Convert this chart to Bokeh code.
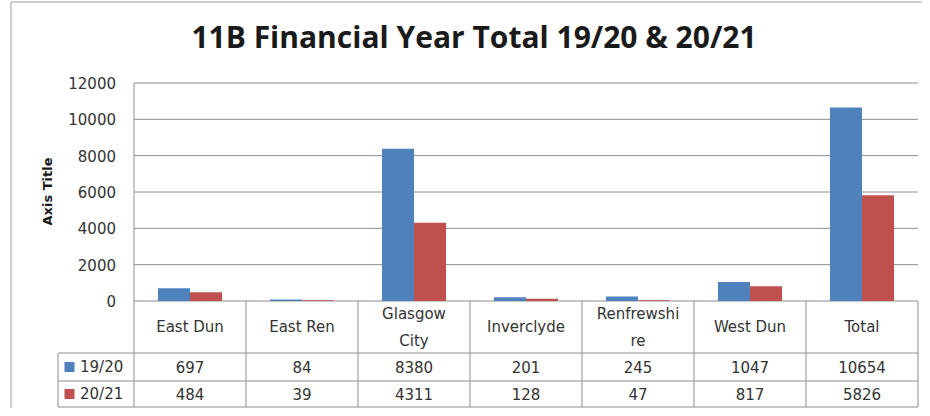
import math
from bokeh.plotting import figure
from bokeh.models import Range1d, ColumnDataSource
from bokeh.transform import dodge
from bokeh.core.properties import value
from bokeh.embed import file_html
from bokeh.resources import INLINE

# ---- data ----
categories = ["East Dun", "East Ren", "Glasgow City", "Inverclyde", "Renfrewshire", "West Dun", "Total"]
category_labels = ["East Dun", "East Ren", "Glasgow\nCity", "Inverclyde", "Renfrewshi\nre", "West Dun", "Total"]
series_names = ["19/20", "20/21"]
values_1920 = [697, 84, 8380, 201, 245, 1047, 10654]
values_2021 = [484, 39, 4311, 128, 47, 817, 5826]
y_ticks = [0, 2000, 4000, 6000, 8000, 10000, 12000]
title_text = "11B Financial Year Total 19/20 & 20/21"
axis_title = "Axis Title"

# ---- style / layout (pixels) ----
BLUE = "#4F81BD"
RED = "#C0504D"
LINE = "#8E8E8E"
BORDER = "#A0A0A0"
TXT = "#333333"
FONT = "DejaVu Sans"
FS = "15px"

W, H = 922, 408
CAT_W = 112.0            # px per category
X0 = 133.5               # px of the value axis
Y0 = 300.5               # px of value 0
Y_TOP = 82.5             # px of value 12000
YMAX = 12000
k = (Y0 - Y_TOP) / YMAX  # px per value unit

n = len(categories)
x_idx = [i + 0.5 for i in range(n)]

p = figure(width=W, height=H, output_backend="svg", toolbar_location=None,
           x_axis_location=None, y_axis_location=None,
           x_range=Range1d(-X0 / CAT_W, (W - X0) / CAT_W),
           y_range=Range1d(-(H - Y0) / k, YMAX + Y_TOP / k),
           min_border=0, min_border_left=0, min_border_right=0, min_border_top=0, min_border_bottom=0)
p.extra_x_ranges = {"sx": Range1d(0, W)}
p.extra_y_ranges = {"sy": Range1d(H, 0)}
p.grid.visible = False
p.outline_line_color = None
p.background_fill_color = "white"
p.border_fill_color = "white"

# outer chart border (left and top)
p.segment(x0=[10.5, 10.5], y0=[1.5, 1.5], x1=[10.5, W], y1=[H, 1.5],
          x_range_name="sx", y_range_name="sy", line_color=BORDER, line_width=1)

# title
p.text(x=[473.5], y=[36], text=[title_text], x_range_name="sx", y_range_name="sy",
       text_align="center", text_baseline="middle", text_font=value("Open Sans"),
       text_font_style="bold", text_font_size="30px", text_color="#1a1a1a")

# axis title
p.text(x=[46.5], y=[191], text=[axis_title], angle=math.pi / 2, x_range_name="sx", y_range_name="sy",
       text_align="center", text_baseline="middle", text_font=value(FONT),
       text_font_style="bold", text_font_size="13px", text_color="#1a1a1a")

# horizontal gridlines
p.segment(x0=[0] * len(y_ticks), y0=y_ticks, x1=[n] * len(y_ticks), y1=y_ticks,
          line_color=LINE, line_width=1)
# value axis line
p.segment(x0=[0], y0=[0], x1=[0], y1=[YMAX], line_color=LINE, line_width=1)
# tick labels
p.text(x=[0] * len(y_ticks), y=y_ticks, text=[str(v) for v in y_ticks], x_offset=-18,
       text_align="right", text_baseline="middle", text_font=value(FONT), text_font_size=FS,
       text_color=TXT)

# bars
src = ColumnDataSource(dict(x=x_idx, v1=values_1920, v2=values_2021))
bw = 0.286
p.vbar(x=dodge("x", -bw / 2), top="v1", width=bw, source=src, fill_color=BLUE, line_color=None)
p.vbar(x=dodge("x", bw / 2), top="v2", width=bw, source=src, fill_color=RED, line_color=None)

# ---- data table ----
leg_left = -76 / CAT_W
row_top, head_bot, row1_bot, row2_bot = 300.5, 352.5, 380.5, 406.5
p.segment(x0=list(range(n + 1)), y0=[row_top] * (n + 1), x1=list(range(n + 1)), y1=[row2_bot] * (n + 1),
          y_range_name="sy", line_color=LINE, line_width=1)
p.segment(x0=[leg_left], y0=[head_bot], x1=[leg_left], y1=[row2_bot],
          y_range_name="sy", line_color=LINE, line_width=1)
p.segment(x0=[leg_left] * 3, y0=[head_bot, row1_bot, row2_bot], x1=[n] * 3,
          y1=[head_bot, row1_bot, row2_bot], y_range_name="sy", line_color=LINE, line_width=1)

p.text(x=x_idx, y=[(row_top + head_bot) / 2] * n, text=category_labels, y_range_name="sy",
       text_align="center", text_baseline="middle", text_font=value(FONT), text_font_size=FS,
       text_color=TXT, text_line_height=1.5)
r1 = (head_bot + row1_bot) / 2
r2 = (row1_bot + row2_bot) / 2
p.text(x=x_idx, y=[r1] * n, text=[str(v) for v in values_1920], y_range_name="sy",
       text_align="center", text_baseline="middle", text_font=value(FONT), text_font_size=FS,
       text_color=TXT)
p.text(x=x_idx, y=[r2] * n, text=[str(v) for v in values_2021], y_range_name="sy",
       text_align="center", text_baseline="middle", text_font=value(FONT), text_font_size=FS,
       text_color=TXT)

# legend keys inside the table
p.scatter(x=[-0.576, -0.576], y=[r1, r2], y_range_name="sy", marker="square", size=10,
          fill_color=[BLUE, RED], line_color=None)
p.text(x=[-0.482, -0.482], y=[r1, r2], text=series_names, y_range_name="sy",
       text_align="left", text_baseline="middle", text_font=value(FONT), text_font_size=FS,
       text_color=TXT)

open("out.html", "w").write(file_html(p, INLINE))
